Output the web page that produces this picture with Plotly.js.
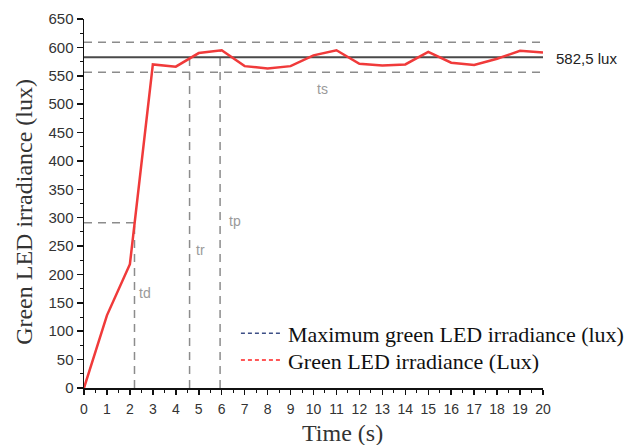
<!DOCTYPE html>
<html>
<head>
<meta charset="utf-8">
<script src="https://cdn.plot.ly/plotly-3.0.1.min.js"></script>
<style>html,body{margin:0;padding:0;background:#fff;}#chart{width:627px;height:445px;}</style>
</head>
<body>
<div id="chart"></div>
<script>
// ---- data ----
const timeS = [0,1,2,3,4,5,6,7,8,9,10,11,12,13,14,15,16,17,18,19,20];
const irradianceLux = [0,128,218,570,566,590,595,567,563,567,586,595,571,568,570,592,573,569,580,594,591];
const maxIrradiance = 582.5;
const bandUpper = 609;
const bandLower = 556;
const tdTime = 2.2, tdLevel = 291.25;
const trTime = 4.6;
const tpTime = 5.93, tpLevel = 595;
const xRange = [0, 20];
const yRange = [0, 650];
const legendNames = ["Maximum green LED irradiance (lux)", "Green LED irradiance (Lux)"];
const markerLabels = ["td", "tr", "tp", "ts"];
const markerLabelX = [2.3, 4.78, 6.25, 10.07];
const markerLabelY = [167, 243, 294, 526];
const valueLabel = "582,5 lux";

const gray = "#8c8c8c";
const gdash = "8px,6px";
const ref = (x, y) => ({x, y, mode: "lines", showlegend: false, hoverinfo: "skip",
  line: {color: gray, width: 1.5, dash: gdash}});

const traces = [
  ref([xRange[0], xRange[1]], [bandUpper, bandUpper]),
  ref([xRange[0], xRange[1]], [bandLower, bandLower]),
  ref([xRange[0], tdTime], [tdLevel, tdLevel]),
  ref([tdTime, tdTime], [0, tdLevel]),
  ref([trTime, trTime], [0, maxIrradiance]),
  ref([tpTime, tpTime], [0, tpLevel]),
  {x: [xRange[0], xRange[1]], y: [maxIrradiance, maxIrradiance], mode: "lines", showlegend: false,
   line: {color: "#4a4a4a", width: 2}},
  {x: timeS, y: irradianceLux, mode: "lines", showlegend: false,
   line: {color: "#f03a3a", width: 2.5}},
  {x: [null], y: [null], mode: "lines", name: legendNames[0], showlegend: true, legend: "legend",
   line: {color: "#3d4f86", width: 1.5, dash: "4px,3px"}},
  {x: [null], y: [null], mode: "lines", name: legendNames[1], showlegend: true, legend: "legend2",
   line: {color: "#ff2020", width: 1.5, dash: "4px,3px"}}
];

const annotations = markerLabels.map((t, i) => ({
  x: markerLabelX[i], y: markerLabelY[i], xref: "x", yref: "y", text: t, showarrow: false,
  xanchor: "left", yanchor: "middle", font: {family: "Arial, Liberation Sans, sans-serif", size: 14, color: "#9a9a9a"}
}));
annotations.push({x: 1.025, y: 580, xref: "paper", yref: "y", text: valueLabel, showarrow: false,
  xanchor: "left", yanchor: "middle", font: {family: "Arial, Liberation Sans, sans-serif", size: 15, color: "#222"}});
annotations.push({x: -0.131, y: 0.477, xref: "paper", yref: "paper", text: "Green LED irradiance (lux)",
  textangle: -90, showarrow: false, xanchor: "center", yanchor: "middle",
  font: {family: "Liberation Serif, Times New Roman, serif", size: 24, color: "#333"}});
annotations.push({x: 0.564, y: -0.122, xref: "paper", yref: "paper", text: "Time (s)",
  showarrow: false, xanchor: "center", yanchor: "middle",
  font: {family: "Liberation Serif, Times New Roman, serif", size: 24, color: "#333"}});

const legFont = {family: "Liberation Serif, Times New Roman, serif", size: 22, color: "#111"};
const layout = {
  width: 627, height: 445,
  margin: {l: 84, r: 84, t: 19, b: 57, pad: 0, autoexpand: false},
  paper_bgcolor: "#fff", plot_bgcolor: "#fff",
  showlegend: true,
  legend: {x: 0.331, y: 0.205, xanchor: "left", yanchor: "top", bgcolor: "rgba(0,0,0,0)",
    font: legFont, itemwidth: 42},
  legend2: {x: 0.331, y: 0.132, xanchor: "left", yanchor: "top", bgcolor: "rgba(0,0,0,0)",
    font: legFont, itemwidth: 42},
  xaxis: {range: xRange, dtick: 1, tick0: 0, showgrid: false, zeroline: false,
    showline: true, linecolor: "#111", linewidth: 1.5, ticks: "outside", ticklen: 5, tickwidth: 1.5, tickcolor: "#111",
    minor: {dtick: 0.5, ticks: "outside", ticklen: 3, tickwidth: 1, tickcolor: "#111"},
    ticklabelstandoff: 3,
    tickfont: {family: "Arial, Liberation Sans, sans-serif", size: 14, color: "#333"}, fixedrange: true},
  yaxis: {range: yRange, dtick: 50, tick0: 0, showgrid: false, zeroline: false,
    showline: true, linecolor: "#111", linewidth: 1.5, ticks: "outside", ticklen: 6, tickwidth: 1.5, tickcolor: "#111",
    minor: {dtick: 25, ticks: "outside", ticklen: 3, tickwidth: 1, tickcolor: "#111"},
    tickfont: {family: "Arial, Liberation Sans, sans-serif", size: 15, color: "#333"}, fixedrange: true},
  annotations: annotations
};

Plotly.newPlot("chart", traces, layout, {displayModeBar: false, staticPlot: true});
</script>
</body>
</html>
